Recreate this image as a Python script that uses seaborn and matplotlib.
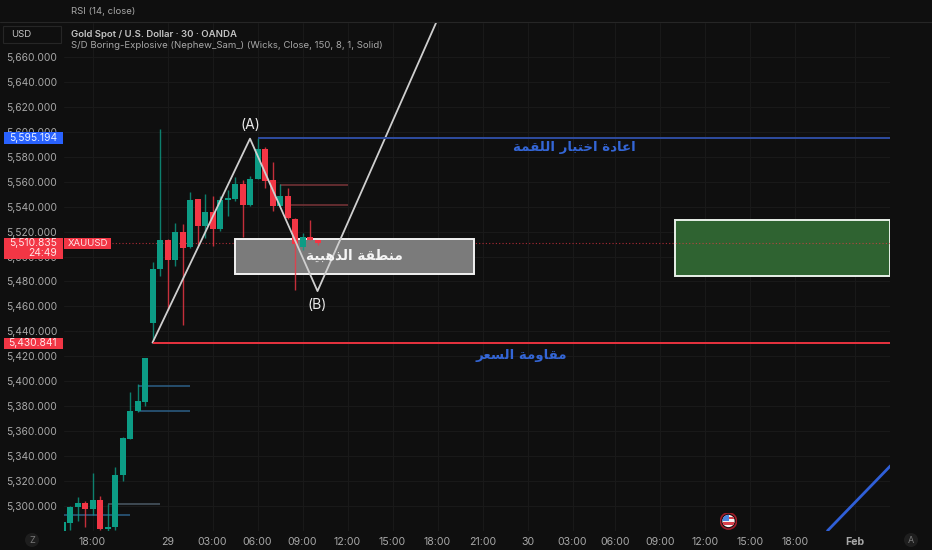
import pandas as pd
import matplotlib
matplotlib.use("Agg")
import matplotlib.pyplot as plt
import seaborn as sns
from matplotlib.patches import Circle, Ellipse, Rectangle

# candles, one per 30 minute bar, bar 0 is the "29" tick
bars = list(range(-14, 21))
opens = [5280, 5286.6, 5299.4, 5302.4, 5297.4, 5304.8, 5282, 5282.9, 5324.8, 5354, 5376.4, 5383.6,
         5446.5, 5489.7, 5513.2, 5497.2, 5519.9, 5507.4, 5545.9, 5524.7, 5535.7, 5521.8, 5545.5,
         5545.9, 5557.9, 5541.5, 5562.1, 5586, 5561.1, 5540.7, 5548.5, 5530.3, 5507.9, 5515.9, 5513.2]
highs = [5287, 5300, 5307.5, 5304.2, 5326.2, 5308, 5302, 5331.5, 5355, 5391.6, 5398, 5418.6,
         5495.8, 5602, 5514, 5526.6, 5525.8, 5551.5, 5546.5, 5550, 5548.5, 5548.5, 5553,
         5564, 5561, 5564.5, 5594.8, 5587.6, 5576, 5558, 5554.7, 5531, 5519, 5529.3, 5513.5]
lows = [5280, 5280.8, 5288.2, 5282.9, 5292.8, 5280.8, 5279, 5280.8, 5320.3, 5353.5, 5375, 5380,
        5433, 5484.6, 5457, 5492.4, 5445, 5507, 5509.2, 5514.6, 5508.4, 5520.2, 5532.5,
        5544.7, 5515.9, 5540.5, 5562, 5555, 5536.7, 5540, 5530, 5473, 5505, 5513, 5509]
closes = [5287, 5299.4, 5302.6, 5297.4, 5304.8, 5281.3, 5282.9, 5324.8, 5354.3, 5376.4, 5383.9, 5418.4,
          5490.2, 5513.2, 5497.2, 5519.9, 5507, 5545.3, 5524.7, 5535.7, 5521.8, 5545.3, 5546.7,
          5557.9, 5541.5, 5562.4, 5586, 5560.8, 5540.5, 5548.5, 5530.6, 5509.8, 5515.9, 5513.2, 5510.8]

# supply / demand levels of the indicator
level_values = [5396.2, 5376.4, 5301.9, 5292.8, 5557.6, 5541.3]
level_starts = [-4, -4, -8, -14, 15, 16]
level_ends = [3, 3, -1, -5, 24, 24]
level_colors = ["#2c5f86", "#2c5f86", "#4c5a66", "#2c5f86", "#7a3438", "#7a3438"]

# drawings
zigzag_bars = [-2, 11, 20, 36]
zigzag_prices = [5431, 5594.5, 5472.3, 5690]
peak_price = 5595.194
last_price = 5510.835
support_price = 5430.841
trend_bars = [88, 96.4]
trend_prices = [5280.2, 5332.3]
grey_zone = (9, 40.8, 5486.3, 5513.8)
green_zone = (67.7, 96.33, 5484.3, 5529.3)

price_ticks = list(range(5300, 5680, 20))
time_ticks = [-10, 0, 6, 12, 18, 24, 30, 36, 42, 48, 54, 59.7, 65.7, 71.7, 77.7, 83.7, 91.6]
time_labels = ["18:00", "29", "03:00", "06:00", "09:00", "12:00", "15:00", "18:00", "21:00",
               "30", "03:00", "06:00", "09:00", "12:00", "15:00", "18:00", "Feb"]

BG = "#0f0f0f"
GREEN = "#0c9c85"
RED = "#f23645"
BLUE = "#2f5fd8"
TEXT = "#a8a8a8"

# matplotlib does not join arabic letters, so pick the presentation forms by hand
FORMS = {
    "ا": (0xFE8D, 0xFE8E), "ة": (0xFE93, 0xFE94), "د": (0xFEA9, 0xFEAA), "ذ": (0xFEAB, 0xFEAC),
    "ر": (0xFEAD, 0xFEAE), "و": (0xFEED, 0xFEEE),
    "ب": (0xFE8F, 0xFE90, 0xFE91, 0xFE92), "ت": (0xFE95, 0xFE96, 0xFE97, 0xFE98),
    "خ": (0xFEA5, 0xFEA6, 0xFEA7, 0xFEA8), "س": (0xFEB1, 0xFEB2, 0xFEB3, 0xFEB4),
    "ط": (0xFEC1, 0xFEC2, 0xFEC3, 0xFEC4), "ع": (0xFEC9, 0xFECA, 0xFECB, 0xFECC),
    "ق": (0xFED5, 0xFED6, 0xFED7, 0xFED8), "ل": (0xFEDD, 0xFEDE, 0xFEDF, 0xFEE0),
    "م": (0xFEE1, 0xFEE2, 0xFEE3, 0xFEE4), "ن": (0xFEE5, 0xFEE6, 0xFEE7, 0xFEE8),
    "ه": (0xFEE9, 0xFEEA, 0xFEEB, 0xFEEC), "ي": (0xFEF1, 0xFEF2, 0xFEF3, 0xFEF4),
}


def arabic(text):
    out = []
    for i, ch in enumerate(text):
        if ch not in FORMS:
            out.append(ch)
            continue
        prev_ch = text[i - 1] if i > 0 else " "
        next_ch = text[i + 1] if i + 1 < len(text) else " "
        joins_prev = prev_ch in FORMS and len(FORMS[prev_ch]) == 4
        joins_next = next_ch in FORMS and len(FORMS[ch]) == 4
        if joins_prev and joins_next:
            form = FORMS[ch][3]
        elif joins_next:
            form = FORMS[ch][2]
        elif joins_prev:
            form = FORMS[ch][1]
        else:
            form = FORMS[ch][0]
        out.append(chr(form))
    return "".join(reversed(out))


sns.set_theme(style="dark")
plt.rcParams["font.family"] = ["Inter", "DejaVu Sans"]

W, H = 932, 550
fig = plt.figure(figsize=(W / 100, H / 100), dpi=100, facecolor=BG)
ax = fig.add_axes([64 / W, 1 - 531 / H, (890 - 64) / W, (531 - 23) / H], facecolor=BG)


def px_text(x, y, s, **kw):
    kw.setdefault("va", "center")
    fig.text(x / W, 1 - y / H, s, **kw)


def px_box(x0, y0, x1, y1, color, **kw):
    fig.add_artist(Rectangle((x0 / W, 1 - y1 / H), (x1 - x0) / W, (y1 - y0) / H, facecolor=color,
                             edgecolor=kw.pop("edgecolor", "none"), transform=fig.transFigure, **kw))


df = pd.DataFrame({"bar": bars, "open": opens, "high": highs, "low": lows, "close": closes})
df["bottom"] = df[["open", "close"]].min(axis=1)
df["height"] = (df["open"] - df["close"]).abs().clip(lower=1)
df["color"] = [GREEN if c >= o else RED for o, c in zip(opens, closes)]

# drawings under the candles
x0, x1, y0, y1 = grey_zone
ax.add_patch(Rectangle((x0, y0), x1 - x0, y1 - y0, fc="#7b7b7b", ec="#f2f2f2", lw=1.4, zorder=2))
x0, x1, y0, y1 = green_zone
ax.add_patch(Rectangle((x0, y0), x1 - x0, y1 - y0, fc="#2f6331", ec="#e8f0e8", lw=1.4, zorder=1.5))
ax.hlines(last_price, -14, 97, colors=RED, lw=0.8, linestyles=(0, (1, 2)), alpha=0.7, zorder=1.8)
ax.hlines(level_values, level_starts, level_ends, colors=level_colors, lw=1.1, zorder=2.5)

# candles
ax.vlines(df["bar"], df["low"], df["high"], colors=df["color"], lw=1, alpha=0.8, zorder=3)
for color, part in df.groupby("color"):
    part = part.sort_values("bar")
    sns.barplot(data=part, x="bar", y="height", bottom=part["bottom"].values, native_scale=True,
                color=color, saturation=1, width=0.8, errorbar=None, linewidth=0, zorder=4, ax=ax)

# lines on top
sns.lineplot(x=zigzag_bars, y=zigzag_prices, sort=False, estimator=None, color="#cfcfcf", lw=1.3, zorder=5, ax=ax)
sns.lineplot(x=trend_bars, y=trend_prices, sort=False, estimator=None, color=BLUE, lw=2, zorder=5, ax=ax)
ax.hlines(peak_price, 12, 97, colors="#2e4ca0", lw=1.4, zorder=5)
ax.hlines(support_price, -2, 97, colors="#e8323f", lw=1.4, zorder=5)

ax.set_xlim(-13.8, 96.33)
ax.set_ylim(5280.0, 5687.2)
ax.set_xticks(time_ticks)
ax.set_xticklabels(time_labels)
ax.set_yticks(price_ticks)
ax.set_yticklabels([f"{v:,.3f}" for v in price_ticks])
ax.set_xlabel("")
ax.set_ylabel("")
ax.grid(True, color="#191919", lw=0.8)
ax.set_axisbelow(True)
for spine in ax.spines.values():
    spine.set_visible(False)
ax.tick_params(axis="y", length=0, pad=5, labelsize=7.4, labelcolor=TEXT)
ax.tick_params(axis="x", length=0, pad=4.5, labelsize=7.6, labelcolor=TEXT)
for label in ax.get_xticklabels():
    if label.get_text() == "Feb":
        label.set_fontweight("bold")

# top strip
fig.add_artist(plt.Line2D([0, 1], [1 - 22 / H] * 2, color="#262626", lw=0.8))
px_text(71, 11, "RSI (14, close)", color=TEXT, fontsize=6.9)
px_text(71, 34.3, "Gold Spot / U.S. Dollar · 30 · OANDA", color="#c4c4c4", fontsize=6.9, fontweight="semibold")
px_text(71, 46, "S/D Boring-Explosive (Nephew_Sam_) (Wicks, Close, 150, 8, 1, Solid)", color=TEXT, fontsize=6.9)
px_box(3, 26, 61, 43, BG, edgecolor="#262626", linewidth=0.8)
px_text(11, 34.5, "USD", color="#c4c4c4", fontsize=6.9)

# price labels
px_box(4, 132, 63, 144, "#2962ff")
px_text(57, 138.2, f"{peak_price:,.3f}", color="#e8efff", fontsize=7.4, ha="right")
px_box(4, 238, 63, 259, RED)
px_text(57, 243.5, f"{last_price:,.3f}", color="#ffe6e8", fontsize=7.4, ha="right")
px_text(57, 253.5, "24:49", color="#ffe6e8", fontsize=7.4, ha="right")
px_box(64, 238, 111, 249, RED)
px_text(67.5, 243.5, "XAUUSD", color="#ffe6e8", fontsize=6.9)
px_box(4, 338, 63, 349, RED)
px_text(57, 343.5, f"{support_price:,.3f}", color="#ffe6e8", fontsize=7.4, ha="right")

# annotations
px_text(250, 125, "(A)", color="#e8e8e8", fontsize=10, ha="center")
px_text(317, 305, "(B)", color="#e8e8e8", fontsize=10, ha="center")
px_text(354.5, 256, arabic("منطقة الذهبية"), color="#f5f5f5", fontsize=9.8, fontweight="bold",
        family="DejaVu Sans", ha="center")
px_text(574, 148, arabic("اعادة اختبار اللقمة"), color="#3466d6", fontsize=9.6, fontweight="bold",
        family="DejaVu Sans", ha="center")
px_text(521, 355, arabic("مقاومة السعر"), color="#3466d6", fontsize=9.6, fontweight="bold",
        family="DejaVu Sans", ha="center")

# corner buttons
for x, s in [(32, "Z"), (911, "A")]:
    fig.add_artist(Ellipse((x / W, 1 - 540 / H), 14 / W, 14 / H, fc="#1e1e1e", ec="none", transform=fig.transFigure))
    px_text(x, 540.3, s, color="#7a7a7a", fontsize=6.5, ha="center")

# us flag event marker
icon = fig.add_axes([720 / W, 1 - 529.5 / H, 17 / W, 17 / H])
icon.set_xlim(-1, 1)
icon.set_ylim(-1, 1)
icon.axis("off")
disc = Circle((0, 0), 0.72, fc="#f4f4f4", ec="none", zorder=1)
icon.add_patch(Circle((0, 0), 0.95, fc="#1a0c0e", ec="#a01c28", lw=1.2, zorder=0))
icon.add_patch(disc)
for patch in [Rectangle((-1, 0), 1.1, 1, fc="#4a86e0", ec="none", zorder=2),
              Rectangle((-1, -0.45), 2, 0.3, fc="#d8404c", ec="none", zorder=2),
              Rectangle((0.1, 0.2), 1, 0.22, fc="#d8404c", ec="none", zorder=2)]:
    icon.add_patch(patch)
    patch.set_clip_path(disc)

fig.savefig("out.png", dpi=100, facecolor=BG)
